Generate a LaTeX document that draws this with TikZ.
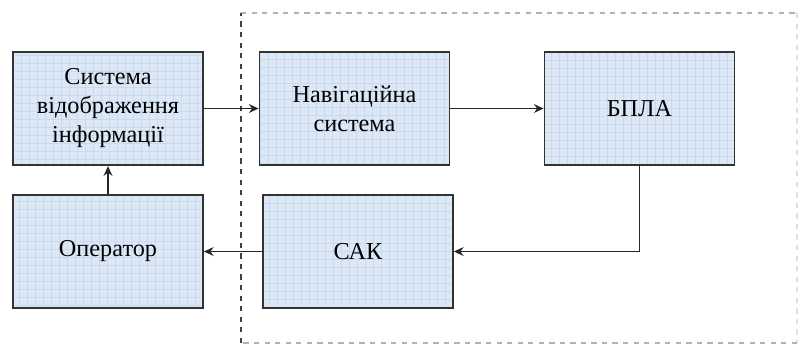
\documentclass[tikz,border=0pt]{standalone}
\usepackage{fontspec}
\setmainfont{Liberation Serif}
\usepackage{xcolor}
\usepackage{tikz}
\usetikzlibrary{arrows.meta, positioning, calc}
\definecolor{boxfill}{HTML}{DCE8F6}
\definecolor{boxgrid}{HTML}{C9DAEE}

\begin{document}
\begin{tikzpicture}[
  block/.style={draw=black!80, line width=1pt, fill=boxfill, minimum width=3.8cm, minimum height=2.27cm,
               align=center, font=\fontsize{13.8}{16.5}\selectfont, inner sep=2pt,
               path picture={\draw[boxgrid, line width=0.3pt, step=0.16cm]
                 (path picture bounding box.south west) grid (path picture bounding box.north east);}},
  arr/.style={-{Stealth[length=5.5pt, width=5pt]}, line width=1.1pt, black!85},
  zone/.style={dashed, line width=0.7pt},
]
  \useasboundingbox (0,0) rectangle (16.06,-7.06);

  % Dashed area round the onboard part
  \coordinate (z1) at (4.82,-0.26);
  \coordinate (z2) at (15.94,-0.26);
  \coordinate (z3) at (15.94,-6.86);
  \coordinate (z4) at (4.82,-6.86);
  \draw[zone, gray!60] (z1) -- (z2);
  \draw[zone, gray!25] (z2) -- (z3);
  \draw[zone, gray!60] (z3) -- (z4);
  \draw[zone, black!75] (z4) -- (z1);

  \node[block] (sys)  at (2.16, -2.17) {Система\\відображення\\інформації};
  \node[block] (nav)  at (7.09, -2.17) {Навігаційна\\система};
  \node[block] (bpla) at (12.79, -2.17) {БПЛА};
  \node[block] (oper) at (2.16, -5.03) {Оператор};
  \node[block] (sak)  at (7.16, -5.03) {САК};

  \draw[arr] (sys) -- (nav);
  \draw[arr] (nav) -- (bpla);
  \draw[arr] (bpla.south) |- (sak.east);
  \draw[arr] (sak) -- (oper);
  \draw[arr] (oper) -- (sys);
\end{tikzpicture}
\end{document}
